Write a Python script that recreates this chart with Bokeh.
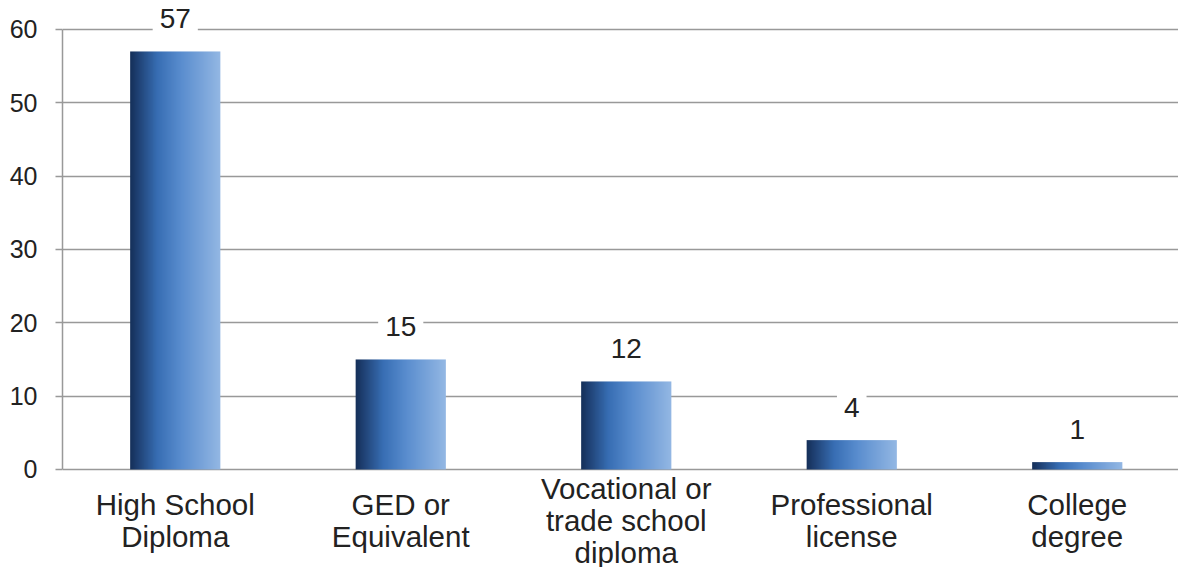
import numpy as np
from bokeh.plotting import figure
from bokeh.models import Range1d, FixedTicker, ColumnDataSource
from bokeh.core.properties import value
from bokeh.embed import file_html
from bokeh.resources import INLINE

# ---- data ----
categories = ["High School\nDiploma", "GED or\nEquivalent",
              "Vocational or\ntrade school\ndiploma", "Professional\nlicense",
              "College\ndegree"]
values = [57, 15, 12, 4, 1]
y_ticks = [0, 10, 20, 30, 40, 50, 60]

FONT = value("Liberation Sans")
GRID = "#999999"
TEXT = "#222222"

idx = np.arange(len(categories))
centers = idx + 0.5
bar_w = 0.4

p = figure(width=1178, height=567,
           x_range=Range1d(0, 4.949), y_range=Range1d(-13.37, 63.95),
           output_backend="svg", toolbar_location=None,
           min_border_left=62, min_border_right=0,
           min_border_top=0, min_border_bottom=0)
p.outline_line_color = None
p.background_fill_color = "white"

p.xaxis.visible = False
p.xgrid.visible = False

p.yaxis.ticker = FixedTicker(ticks=y_ticks)
p.ygrid.ticker = FixedTicker(ticks=y_ticks)
p.ygrid.grid_line_color = GRID
p.ygrid.grid_line_width = 1.5
p.yaxis.bounds = (0, 60)
p.yaxis.axis_line_color = GRID
p.yaxis.axis_line_width = 1.5
p.yaxis.major_tick_line_color = GRID
p.yaxis.major_tick_line_width = 1.5
p.yaxis.major_tick_out = 7
p.yaxis.major_tick_in = 0
p.yaxis.minor_tick_line_color = None
p.yaxis.major_label_text_font = "Liberation Sans"
p.yaxis.major_label_text_font_size = "25px"
p.yaxis.major_label_text_color = TEXT
p.yaxis.major_label_standoff = 18

# horizontal gradient image for bars (style only)
stops = [(0.0, (22, 48, 90)), (0.3, (56, 110, 180)),
         (0.55, (88, 140, 206)), (1.0, (148, 184, 228))]
n = 200
t = np.linspace(0, 1, n)
rgb = np.zeros((n, 3))
for c in range(3):
    rgb[:, c] = np.interp(t, [s[0] for s in stops], [s[1][c] for s in stops])
img = np.zeros((1, n), dtype=np.uint32)
view = img.view(dtype=np.uint8).reshape((1, n, 4))
view[0, :, 0] = rgb[:, 0].astype(np.uint8)
view[0, :, 1] = rgb[:, 1].astype(np.uint8)
view[0, :, 2] = rgb[:, 2].astype(np.uint8)
view[0, :, 3] = 255

src = ColumnDataSource(dict(
    image=[img] * len(values),
    x=list(centers - bar_w / 2),
    y=[0] * len(values),
    dw=[bar_w] * len(values),
    dh=values,
    xc=list(centers),
    val=values,
    lab=[str(v) for v in values],
    cat=categories,
))

p.image_rgba(image="image", x="x", y="y", dw="dw", dh="dh", source=src)

# value labels
p.text(x="xc", y="val", text="lab", source=src,
       text_align="center", text_baseline="middle", y_offset=-33,
       text_font=FONT, text_font_size="28px", text_color=TEXT,
       background_fill_color="white", padding=7)

# category labels
p.text(x="xc", y=0, text="cat", source=src,
       text_align="center", text_baseline="middle", y_offset=51,
       text_font=FONT, text_font_size="29.5px", text_color=TEXT,
       text_line_height=0.98)

open("out.html", "w").write(file_html(p, INLINE))
